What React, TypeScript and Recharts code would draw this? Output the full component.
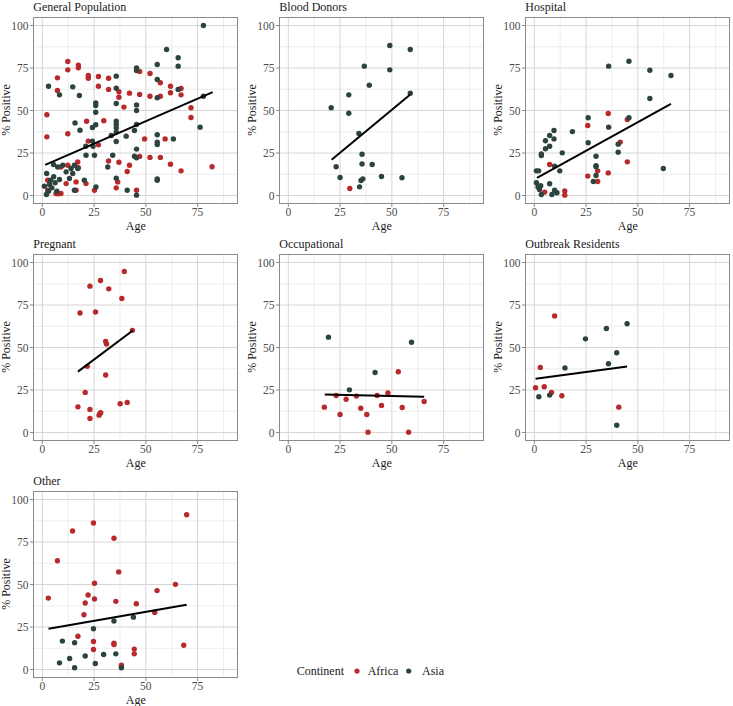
import React from 'react';
import { ScatterChart, Scatter, XAxis, YAxis, CartesianGrid } from 'recharts';

type Pt = [number, number];

// ---------- data (age, % positive) ----------
const genAfrica: Pt[] = [
  [2.2, 47.5], [2.2, 34.5], [2.6, 9], [2.6, 3.1], [7.3, 69.2], [7.3, 61.8], [12.3, 78.8], [12.3, 73.9], [12.3, 36.3],
  [17.4, 76.7], [17.4, 75.1], [22.2, 70.6], [22.2, 69], [27.1, 70], [27.1, 64.3], [32, 69], [32, 62.4], [37, 61],
  [37, 57.8], [39.4, 52], [42.1, 60.2], [47, 73], [47, 59.4], [52, 71.8], [52, 58.4], [57, 66.3], [57, 58.4],
  [61.9, 64.3], [61.9, 60.4], [67, 62.9], [67, 59.2], [71.8, 51.6], [71.8, 45.9], [82, 16.9], [67, 14.5], [61.9, 18.4],
  [57, 22.4], [52, 22.4], [47, 23], [49.4, 33.3], [59.3, 33.3], [42.1, 17.8], [41, 14.1], [37, 19.6], [32, 20.3],
  [29.7, 44], [27.1, 29.8], [22.2, 32], [21.4, 43.7], [17.1, 19.7], [17.4, 16.3], [16.3, 8],
  [16.3, 3.1], [12.3, 17.8], [11.5, 7], [9, 16.8], [6.6, 1.2], [7.6, 1], [9, 1.2],
  [21.1, 7], [25.2, 3.1], [35.7, 4.5], [36.4, 8], [45.5, 3.1],
];
const genAsia: Pt[] = [
  [1, 5.5], [2, 0.6], [3, 2.5], [3.5, 6.5], [4.6, 4.5], [5.4, 18.2], [6.2, 7.5], [7, 2.5], [8.3, 9.4], [2.1, 12.9],
  [4, 9], [5.5, 11], [7.4, 16.8], [9.9, 17.8], [11.5, 13.9], [13.1, 10], [13.9, 15.9], [15.5, 17.8], [14.7, 12.9],
  [15.5, 3.1], [17.1, 15.9], [20.3, 9], [21.1, 23.7], [3, 64.3], [8.3, 59.2], [14.7, 63.9], [17.9, 58.8], [15.8, 42.7],
  [18.2, 38.4], [21, 29], [24.2, 40], [24.2, 32], [24.5, 29], [25.2, 23.7], [25.8, 54.5], [25.8, 52.9],
  [25.8, 49], [25.8, 41.6], [25.9, 5], [31.6, 16.8], [34, 23.7], [33.3, 35.3],
  [35.7, 70.2], [35.7, 63.1], [35.7, 54.1], [35.7, 43.7], [35.7, 41.8], [35.7, 39.8], [35.7, 37.3], [35.7, 31.8],
  [35.7, 10.2], [41, 3.1], [40.5, 34.9], [45.5, 75.1], [45.5, 73.5], [45.5, 53.3], [45.5, 50], [45.5, 41.8],
  [44.5, 38.2], [45.5, 27.3], [44.5, 23.1], [45.5, 22.2], [45.5, 0.2], [55.5, 77.1], [55.5, 68.2], [55.5, 57.5],
  [55.5, 35.7], [55.5, 31.4], [55.5, 30], [55.5, 9.8], [55.5, 9], [60, 85.9], [63.3, 33.3], [65.6, 81], [65.6, 76.1],
  [65.6, 62.4], [76.2, 40.2], [77.8, 100], [77.8, 58.4],
];
const genFit: Pt[] = [[1.4, 18], [82.3, 60.8]];

const bloodAfrica: Pt[] = [[29.7, 4.1]];
const bloodAsia: Pt[] = [
  [20.7, 51.6], [23.1, 16.9], [25, 10.6], [29.2, 59.2], [29.2, 48.4], [34.1, 36.5], [35.6, 24.3], [35.6, 18.6],
  [35.1, 8.8], [36, 9.8], [34.4, 5.1], [36.7, 76.1], [39.1, 64.9], [40.5, 18.2], [45, 11.2], [49, 88.2], [49, 73.9],
  [54.9, 10.4], [58.9, 85.9], [58.9, 60.2],
];
const bloodFit: Pt[] = [[20.9, 21], [58.9, 59.4]];

const hospAfrica: Pt[] = [
  [5, 2], [7.4, 18.2], [14.7, 2.7], [14.7, 0.2], [25.8, 41.2], [25.8, 11.4], [30.6, 14.5], [30.6, 8.2], [35.7, 48.2],
  [35.7, 13.3], [41.5, 31.4], [44.9, 44.7], [44.9, 19.8],
];
const hospAsia: Pt[] = [
  [1, 14.5], [2.1, 14.5], [1, 7.5], [1.8, 5], [2.5, 3.5], [3.1, 5.8], [3.4, 0.6], [3.4, 23.5], [3.4, 24.5], [5.4, 32.2],
  [5.4, 27.5], [7.4, 29], [7.4, 35.3], [7.4, 6.9], [8.5, 0.6], [9.5, 38.2], [9.5, 33.3], [9.8, 17.3], [9.8, 3.1],
  [10.9, 1.6], [12.3, 14.5], [13.5, 25.1], [18.4, 37.6], [26, 45.7], [26, 31], [28.5, 8.2], [29.8, 23.1], [29.8, 17.6],
  [29.8, 16.9], [29.8, 11.8], [35.9, 76.1], [35.9, 40.2], [40.5, 30.2], [40.5, 25.5], [45.7, 79], [45.7, 45.7],
  [55.8, 73.7], [55.8, 57.1], [62.3, 15.9], [66, 70.6],
];
const hospFit: Pt[] = [[1.3, 10.4], [66, 53.9]];

const pregAfrica: Pt[] = [
  [17.2, 15.1], [18.2, 70.3], [20.7, 23.6], [21.7, 38.9], [23, 86.1], [23, 13.6], [23, 8.3], [25.7, 70.9], [27.4, 10.2],
  [27.8, 11.2], [28.2, 11.6], [28.1, 89.4], [30.6, 53.6], [31, 52.1], [30.6, 33.8], [32.1, 84.5], [37.6, 16.9],
  [38.4, 78.8], [39.6, 94.7], [41, 17.7], [43.5, 60.1],
];
const pregAsia: Pt[] = [];
const pregFit: Pt[] = [[17.2, 35.8], [43.7, 60]];

const occAfrica: Pt[] = [
  [17.4, 14.9], [23.1, 21.8], [25, 10.6], [27.9, 19.6], [32.9, 21.4], [35, 14.3], [37.9, 10.6], [38.5, 0.2],
  [42.9, 21.8], [45, 15.9], [48.1, 23.3], [53.1, 35.7], [55, 14.7], [58.1, 0.2], [65.6, 18.2],
];
const occAsia: Pt[] = [[19.4, 56.1], [29.5, 25.1], [41.9, 35.3], [59.5, 53.1]];
const occFit: Pt[] = [[17.6, 22.4], [65.6, 21]];

const outAfrica: Pt[] = [[0.6, 26.3], [2.9, 38.2], [4.8, 26.9], [8.3, 23.5], [9.8, 68.6], [13.3, 21.6], [40.8, 14.9]];
const outAsia: Pt[] = [
  [2.2, 21], [7.4, 22], [14.8, 38], [24.7, 55.1], [34.8, 61.2], [35.8, 40.4], [39.8, 46.9], [39.8, 4.3], [44.8, 64],
];
const outFit: Pt[] = [[0.6, 31.6], [44.8, 38.8]];

const otherAfrica: Pt[] = [
  [2.9, 42], [7.3, 64], [14.6, 81.5], [17.2, 19.6], [20.1, 32.2], [20.7, 39.1], [22.1, 43.8], [24.7, 86.2],
  [25.2, 41.5], [25.2, 50.7], [24.7, 16.5], [24.7, 11.8], [34.6, 77.2], [34.6, 15.5], [34.6, 14.7], [35.5, 40.1],
  [36.9, 57.4], [38.2, 2.6], [38.2, 1.8], [44.4, 12], [44.4, 9.2], [45.4, 38.7], [54.3, 33.6], [55.4, 46.4],
  [64.3, 50.1], [68.3, 14.3], [69.7, 91],
];
const otherAsia: Pt[] = [
  [8.3, 3.9], [9.7, 16.7], [13.2, 6.5], [15.6, 15.7], [15.6, 1], [20.7, 7.9], [24.7, 24], [25.6, 3.5], [29.6, 8.8],
  [34.6, 28.5], [35.5, 9.2], [38.2, 1], [44, 30.8],
];
const otherFit: Pt[] = [[3, 24], [69.7, 38.1]];

const xTicks = [0, 25, 50, 75];
const yTicks = [0, 25, 50, 75, 100];
const xMinor = [12.5, 37.5, 62.5, 87.5];
const yMinor = [12.5, 37.5, 62.5, 87.5];
const legendItems = ['Africa', 'Asia'];

// ---------- styling ----------
const FONT = '"Liberation Serif", "Times New Roman", serif';
const RED = '#B8292B';
const DARK = '#2C433E';
const PW = 205;
const PH = 187;
const ML = 40;
const MT = 18;
const COLS = [33.3, 279.3, 525.3];
const ROWS = [16.5, 253.5, 490.5];

const toObj = (a: Pt[]) => a.map(([x, y]) => ({ x, y }));

const dot = (color: string) => (p: any) =>
  p && p.cx != null ? <circle cx={p.cx} cy={p.cy} r={2.7} fill={color} /> : <g />;

const Txt = ({ x, y, children, start = false, size = 12, color = '#1a1a1a', rotate = false }: any) => (
  <div
    style={{
      position: 'absolute',
      left: x,
      top: y,
      transform: `translate(${start ? '0' : '-50%'}, -50%)${rotate ? ' rotate(-90deg)' : ''}`,
      fontSize: size,
      lineHeight: 1,
      color,
      whiteSpace: 'nowrap',
      fontFamily: FONT,
    }}
  >
    {children}
  </div>
);

type PanelProps = { title: string; col: number; row: number; africa: Pt[]; asia: Pt[]; fit: Pt[] };

const tickStyle = { fill: '#4d4d4d', fontSize: 11.5, fontFamily: FONT, style: { fontFamily: FONT } };

const Panel = ({ title, col, row, africa, asia, fit }: PanelProps) => {
  const left = COLS[col];
  const top = ROWS[row];
  return (
    <>
      <div style={{ position: 'absolute', left: left - ML, top: top - MT, fontFamily: FONT }}>
        <ScatterChart
          width={250}
          height={240}
          margin={{ top: MT, right: 5, bottom: 5, left: 10 }}
          style={{ fontFamily: FONT }}
        >
          <CartesianGrid
            verticalValues={xMinor}
            horizontalValues={yMinor}
            stroke="#e6e6e6"
            strokeWidth={0.7}
            fill="#ffffff"
          />
          <CartesianGrid verticalValues={xTicks} horizontalValues={yTicks} stroke="#d6d6d6" strokeWidth={1} />
          <XAxis
            type="number"
            dataKey="x"
            domain={[-4.5, 94.5]}
            ticks={xTicks}
            allowDataOverflow
            height={30}
            axisLine={false}
            tickSize={3}
            tickMargin={1}
            tickLine={{ stroke: '#888' }}
            tick={tickStyle}
          />
          <YAxis
            type="number"
            dataKey="y"
            domain={[-5, 105]}
            ticks={yTicks}
            allowDataOverflow
            width={30}
            axisLine={false}
            tickSize={3}
            tickMargin={1.5}
            tickLine={{ stroke: '#888' }}
            tick={tickStyle}
          />
          <Scatter data={toObj(africa)} fill={RED} shape={dot(RED)} isAnimationActive={false} />
          <Scatter data={toObj(asia)} fill={DARK} shape={dot(DARK)} isAnimationActive={false} />
          <Scatter
            data={toObj(fit)}
            fill="#000"
            line={{ stroke: '#000', strokeWidth: 2 }}
            shape={() => <g />}
            isAnimationActive={false}
          />
        </ScatterChart>
      </div>
      <div
        style={{
          position: 'absolute',
          left,
          top,
          width: PW,
          height: PH,
          border: '1px solid #8a8a8a',
          boxSizing: 'border-box',
          pointerEvents: 'none',
        }}
      />
      <Txt x={left} y={top - 10} start size={12}>
        {title}
      </Txt>
      <Txt x={left - 27} y={top + PH / 2} rotate size={12}>
        % Positive
      </Txt>
      <Txt x={left + PW / 2} y={top + PH + 22} size={12}>
        Age
      </Txt>
    </>
  );
};

export default function App() {
  return (
    <div
      style={{
        position: 'absolute',
        left: 0,
        top: 0,
        width: 733,
        height: 706,
        background: '#ffffff',
        overflow: 'hidden',
        fontFamily: FONT,
      }}
    >
      <Panel title="General Population" col={0} row={0} africa={genAfrica} asia={genAsia} fit={genFit} />
      <Panel title="Blood Donors" col={1} row={0} africa={bloodAfrica} asia={bloodAsia} fit={bloodFit} />
      <Panel title="Hospital" col={2} row={0} africa={hospAfrica} asia={hospAsia} fit={hospFit} />
      <Panel title="Pregnant" col={0} row={1} africa={pregAfrica} asia={pregAsia} fit={pregFit} />
      <Panel title="Occupational" col={1} row={1} africa={occAfrica} asia={occAsia} fit={occFit} />
      <Panel title="Outbreak Residents" col={2} row={1} africa={outAfrica} asia={outAsia} fit={outFit} />
      <Panel title="Other" col={0} row={2} africa={otherAfrica} asia={otherAsia} fit={otherFit} />

      <Txt x={296.7} y={670.5} start size={12}>
        Continent
      </Txt>
      <svg style={{ position: 'absolute', left: 350, top: 664 }} width={70} height={14}>
        <circle cx={7} cy={7} r={2.6} fill={RED} />
        <circle cx={58.7} cy={7} r={2.6} fill={DARK} />
      </svg>
      <Txt x={367.7} y={670.5} start size={12}>
        {legendItems[0]}
      </Txt>
      <Txt x={422} y={670.5} start size={12}>
        {legendItems[1]}
      </Txt>
    </div>
  );
}
